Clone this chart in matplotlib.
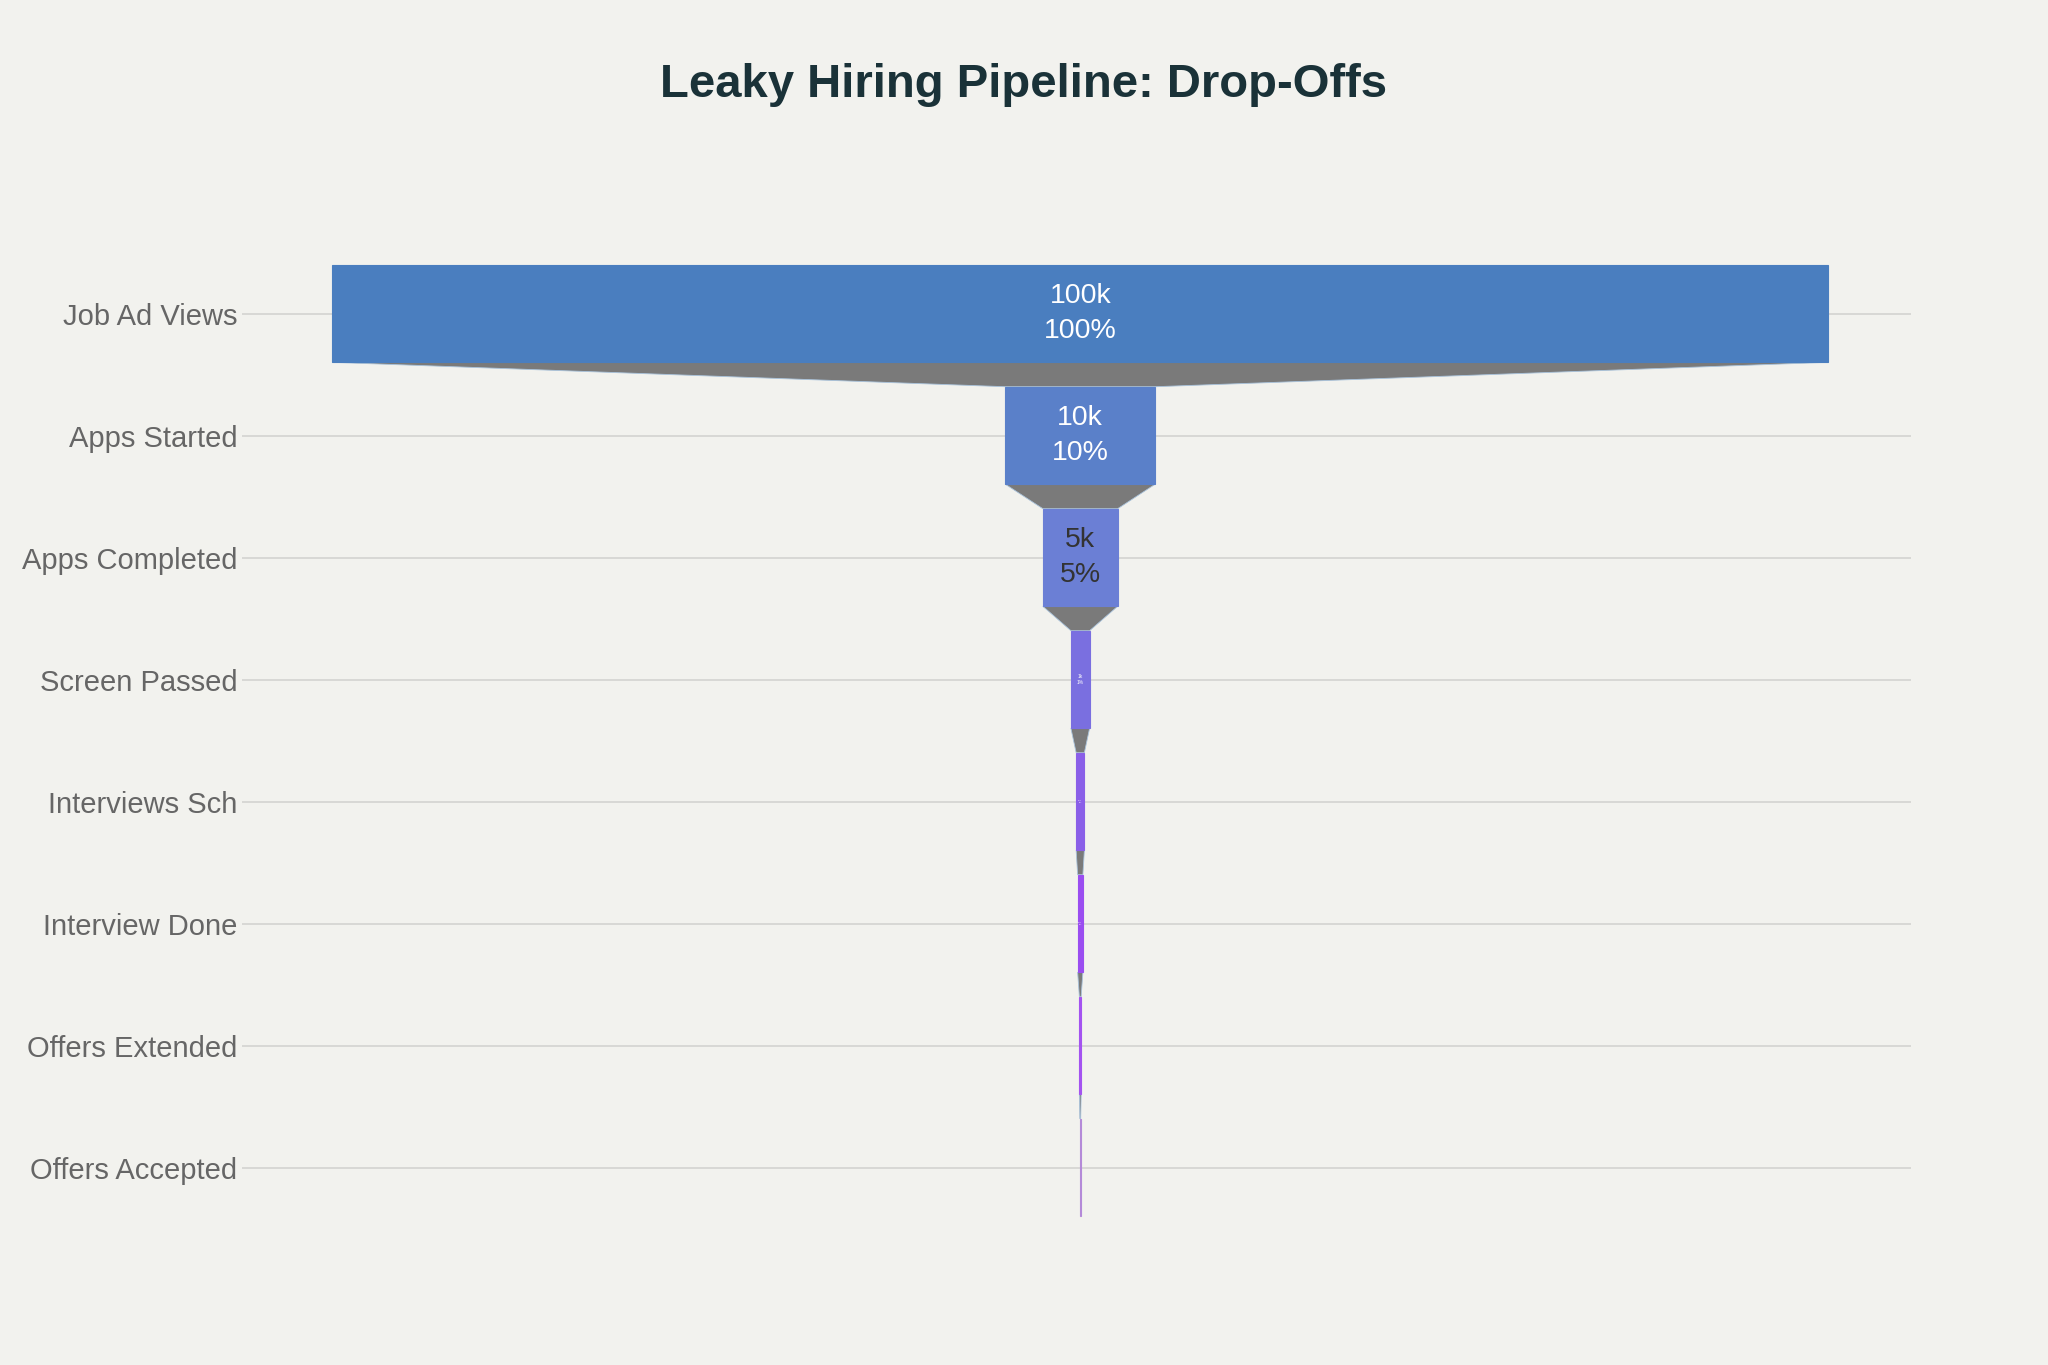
"""
Funnel chart of hiring pipeline drop-offs
"""

import matplotlib
matplotlib.use("Agg")
import matplotlib.pyplot as plt
import numpy as np

stages = ["Job Ad Views", "Apps Started", "Apps Completed", "Screen Passed",
          "Interviews Sch", "Interview Done", "Offers Extended", "Offers Accepted"]
counts = [100000, 10000, 5000, 1250, 550, 350, 120, 60]
colors = ["#4a7ebf", "#5a80c9", "#6b7fd5", "#7a6fe0",
          "#8a5fe8", "#9a4df0", "#a453f0", "#b48ad8"]
text_colors = ["white", "white", "#333333", "white", "white", "white", "white", "white"]

BG = "#f2f2ee"
plt.rcParams['font.family'] = ['Liberation Sans', 'DejaVu Sans']


def fmt_value(v):
  if v >= 1000:
    return "%dk" % round(v / 1000)
  return str(v)


fig = plt.figure(figsize=(20.48, 13.65), dpi=100, facecolor=BG)
ax = fig.add_axes([0.118, 0.100, 0.815, 0.715], facecolor=BG)

vals = np.array(counts, dtype=float)
y = np.arange(len(stages))
h = 0.8

ax.barh(y, vals, left=-vals / 2, height=h, color=colors,
        edgecolor=colors, linewidth=0.8, zorder=3)

# connectors between stages
for i in range(len(vals) - 1):
  w0, w1 = vals[i] / 2, vals[i + 1] / 2
  y0, y1 = y[i] + h / 2, y[i + 1] - h / 2
  ax.fill([-w0, w0, w1, -w1], [y0, y0, y1, y1], color="#7a7a7a",
          edgecolor="#a9c3dc", linewidth=0.6, zorder=2)

# labels inside bars, shrunk to fit like plotly does
for i, v in enumerate(vals):
  label = "%s\n%d%%" % (fmt_value(counts[i]), round(v / vals[0] * 100))
  if v >= 4000:
    fs = 20.5
  elif v >= 1000:
    fs = 3.5
  elif v >= 300:
    fs = 1.6
  else:
    continue
  ax.text(0, y[i], label, ha="center", va="center", fontsize=fs,
          color=text_colors[i], linespacing=1.45, zorder=4)

ax.set_xlim(-56070, 55530)
ax.set_ylim(len(stages) - 0.5, -0.5)
ax.set_yticks(y)
ax.set_yticklabels(stages, fontsize=21, color="#666666")
ax.tick_params(axis="y", length=0, pad=3)
ax.set_xticks([])
ax.grid(axis="y", color="#d6d6d3", linewidth=1.3, zorder=0)
for s in ax.spines.values():
  s.set_visible(False)

fig.text(0.5, 0.938, "Leaky Hiring Pipeline: Drop-Offs", ha="center", va="center",
         fontsize=34, fontweight="bold", color="#1a3238")

fig.savefig("out.png", dpi=100, facecolor=BG)
